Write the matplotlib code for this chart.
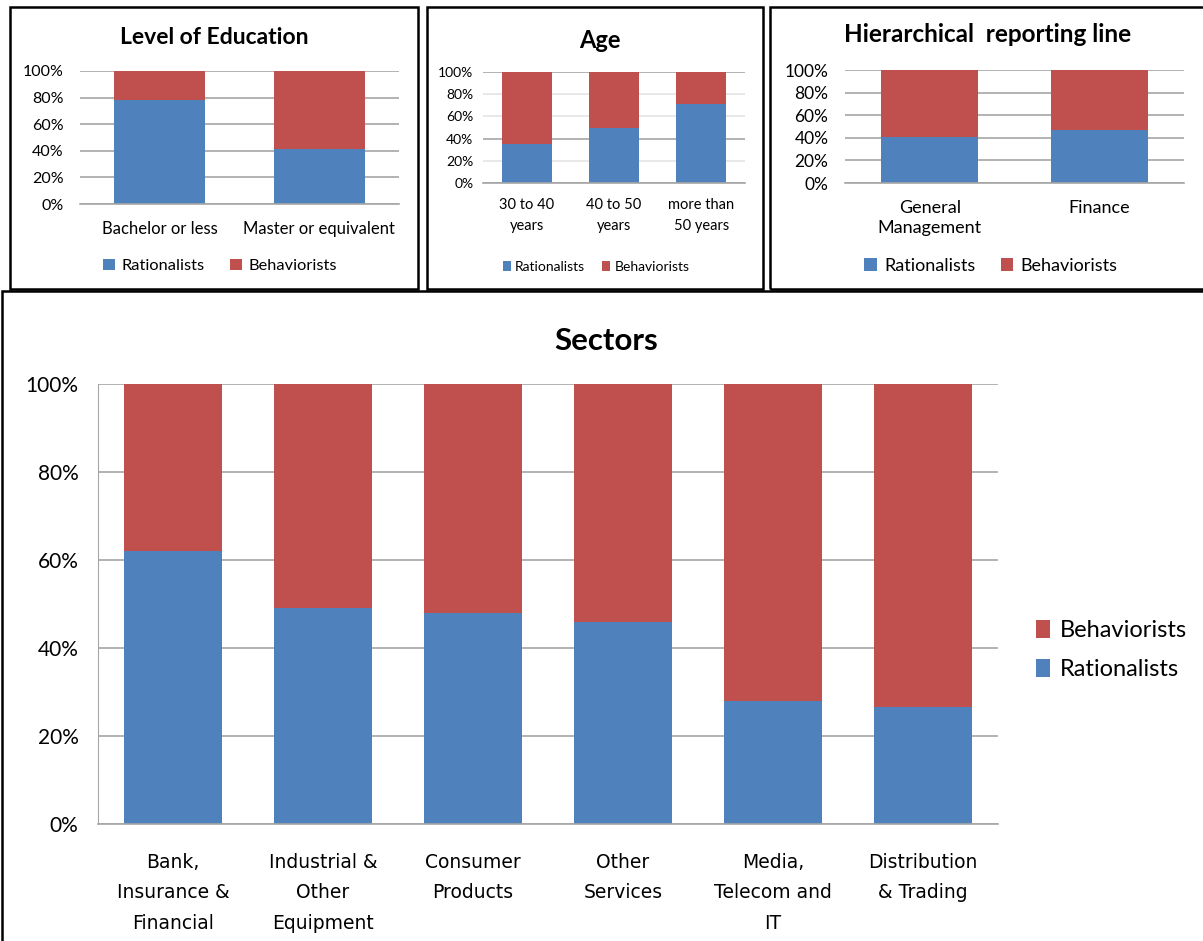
import matplotlib.pyplot as plt
from matplotlib.patches import Rectangle
from matplotlib.ticker import PercentFormatter

W, H = 1203, 941
BLUE = '#4F81BD'
RED = '#C0504D'
GRID = '#a6a6a6'

# data
edu_cats = ['Bachelor or less', 'Master or equivalent']
edu_rat = [0.78, 0.41]

age_cats = ['30 to 40\nyears', '40 to 50\nyears', 'more than\n50 years']
age_rat = [0.35, 0.50, 0.71]

hier_cats = ['General\nManagement', 'Finance']
hier_rat = [0.41, 0.465]

sec_cats = ['Bank,\nInsurance &\nFinancial', 'Industrial &\nOther\nEquipment',
            'Consumer\nProducts', 'Other\nServices', 'Media,\nTelecom and\nIT',
            'Distribution\n& Trading']
sec_rat = [0.62, 0.49, 0.48, 0.46, 0.28, 0.265]

yticks = [0, 0.2, 0.4, 0.6, 0.8, 1.0]

plt.rcParams['font.family'] = ['Lato', 'DejaVu Sans']

fig = plt.figure(figsize=(W / 100, H / 100), dpi=100)


def px_axes(l, t, r, b):
    return fig.add_axes([l / W, 1 - b / H, (r - l) / W, (b - t) / H])


def stacked(ax, cats, rat, width, yfs, xfs, ypad, xpad, lsp=1.2, left_spine=False):
    x = range(len(cats))
    beh = [1 - v for v in rat]
    b1 = ax.bar(x, rat, width, color=BLUE, label='Rationalists', zorder=2)
    b2 = ax.bar(x, beh, width, bottom=rat, color=RED, label='Behaviorists', zorder=2)
    ax.set_xlim(-0.5, len(cats) - 0.5)
    ax.set_ylim(0, 1)
    ax.set_yticks(yticks)
    ax.yaxis.set_major_formatter(PercentFormatter(1.0, decimals=0))
    ax.set_xticks(list(x))
    ax.set_xticklabels(cats, linespacing=lsp)
    ax.tick_params(axis='y', length=0, labelsize=yfs, pad=ypad)
    ax.tick_params(axis='x', length=0, labelsize=xfs, pad=xpad)
    ax.yaxis.grid(True, color=GRID, lw=1.2, zorder=0)
    ax.set_axisbelow(True)
    for s in ['top', 'right']:
        ax.spines[s].set_visible(False)
    ax.spines['left'].set_visible(left_spine)
    ax.spines['left'].set_color(GRID)
    ax.spines['bottom'].set_color(GRID)
    ax.spines['bottom'].set_linewidth(1.2)
    return b1, b2


# Level of Education
ax1 = px_axes(80, 71, 399, 204)
b1, b2 = stacked(ax1, edu_cats, edu_rat, 0.57, 11.5, 12, 12, 12)
fig.text(214 / W, 1 - 37 / H, 'Level of Education', ha='center', va='center',
         fontsize=16.5, fontweight='bold')
fig.legend([b1, b2], ['Rationalists', 'Behaviorists'], loc='center',
           bbox_to_anchor=(220 / W, 1 - 266 / H), ncol=2, frameon=False,
           fontsize=11.8, handlelength=0.7, handleheight=0.7, columnspacing=1.6,
           handletextpad=0.4)

# Age
ax2 = px_axes(483, 72, 745, 183)
b1, b2 = stacked(ax2, age_cats, age_rat, 0.57, 10, 10.5, 7, 11, lsp=1.6)
for i, gl in enumerate(ax2.get_ygridlines()):
    if yticks[i] not in (0, 0.4, 1.0):
        gl.set_color('#e4e4e4')
fig.text(600 / W, 1 - 40 / H, 'Age', ha='center', va='center',
         fontsize=17, fontweight='bold')
fig.legend([b1, b2], ['Rationalists', 'Behaviorists'], loc='center',
           bbox_to_anchor=(596 / W, 1 - 267 / H), ncol=2, frameon=False,
           fontsize=10, handlelength=0.6, handleheight=0.7, columnspacing=1.2,
           handletextpad=0.3)

# Hierarchical reporting line
ax3 = px_axes(845, 70, 1184, 183)
b1, b2 = stacked(ax3, hier_cats, hier_rat, 0.57, 12.5, 13, 12, 12, lsp=1.35)
fig.text(988 / W, 1 - 35 / H, 'Hierarchical  reporting line', ha='center',
         va='center', fontsize=17.5, fontweight='bold')
fig.legend([b1, b2], ['Rationalists', 'Behaviorists'], loc='center',
           bbox_to_anchor=(991 / W, 1 - 266 / H), ncol=2, frameon=False,
           fontsize=13, handlelength=0.7, handleheight=0.7, columnspacing=1.4,
           handletextpad=0.4)

# Sectors
ax4 = px_axes(98, 384, 998, 824)
b1, b2 = stacked(ax4, sec_cats, sec_rat, 0.65, 15, 13.5, 14, 21, lsp=1.75,
                 left_spine=True)
for lab in ax4.get_xticklabels():
    lab.set_fontfamily('DejaVu Sans')
fig.text(606 / W, 1 - 341 / H, 'Sectors', ha='center', va='center',
         fontsize=22.5, fontweight='bold')
fig.legend([b2, b1], ['Behaviorists', 'Rationalists'], loc='center left',
           bbox_to_anchor=(1015 / W, 1 - 650 / H), ncol=1, frameon=False,
           fontsize=17, handlelength=0.6, handleheight=0.8, labelspacing=0.75,
           handletextpad=0.4)

# panel borders
for (l, t, r, b) in [(10, 7, 418, 289), (427, 7, 763, 289),
                     (770, 7, 1206, 289), (2, 291, 1206, 944)]:
    fig.patches.append(Rectangle((l / W, 1 - b / H), (r - l) / W, (b - t) / H,
                                 transform=fig.transFigure, fill=False,
                                 edgecolor='black', lw=1.8))

fig.savefig('out.png', dpi=100)
